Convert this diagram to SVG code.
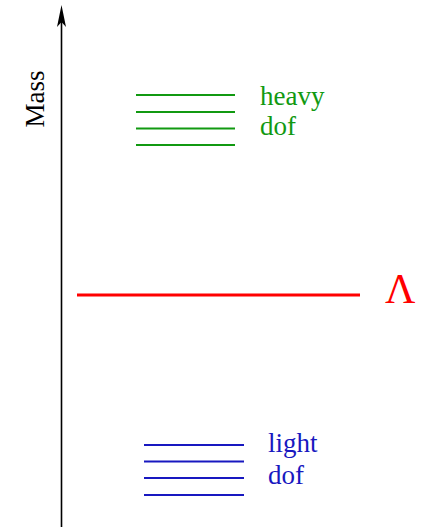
<svg xmlns="http://www.w3.org/2000/svg" width="431" height="527" viewBox="0 0 431 527">
<style>
text{font-family:"Liberation Serif","Times New Roman",serif;}
.g{stroke:#119911;stroke-width:2;}
.b{stroke:#1818c0;stroke-width:2;}
</style>
<rect width="431" height="527" fill="#fff"/>
<g id="connectors">
<line x1="61.5" y1="527" x2="61.5" y2="20" stroke="#000" stroke-width="1.6"/>
<path d="M61.5,5 L66,27 L61.5,22 L57,27 Z" fill="#000"/>
</g>
<g id="axis-label">
<text x="44" y="99" font-size="27" text-anchor="middle" transform="rotate(-90 44 99)" fill="#000">Mass</text>
</g>
<g id="heavy">
<line class="g" x1="136" y1="95" x2="235" y2="95"/>
<line class="g" x1="136" y1="112" x2="235" y2="112"/>
<line class="g" x1="136" y1="128.5" x2="235" y2="128.5"/>
<line class="g" x1="136" y1="145" x2="235" y2="145"/>
<text x="260" y="105" font-size="27" fill="#119911">heavy</text>
<text x="260" y="135" font-size="27" fill="#119911">dof</text>
</g>
<g id="lambda">
<line x1="77" y1="295" x2="360" y2="295" stroke="#ff0000" stroke-width="3.2"/>
<text x="385" y="303" font-size="42" fill="#ff0000">Λ</text>
</g>
<g id="light">
<line class="b" x1="144" y1="445" x2="244" y2="445"/>
<line class="b" x1="144" y1="461.5" x2="244" y2="461.5"/>
<line class="b" x1="144" y1="478" x2="244" y2="478"/>
<line class="b" x1="144" y1="495" x2="244" y2="495"/>
<text x="268" y="452" font-size="27" fill="#1818c0">light</text>
<text x="268" y="484" font-size="27" fill="#1818c0">dof</text>
</g>
</svg>
